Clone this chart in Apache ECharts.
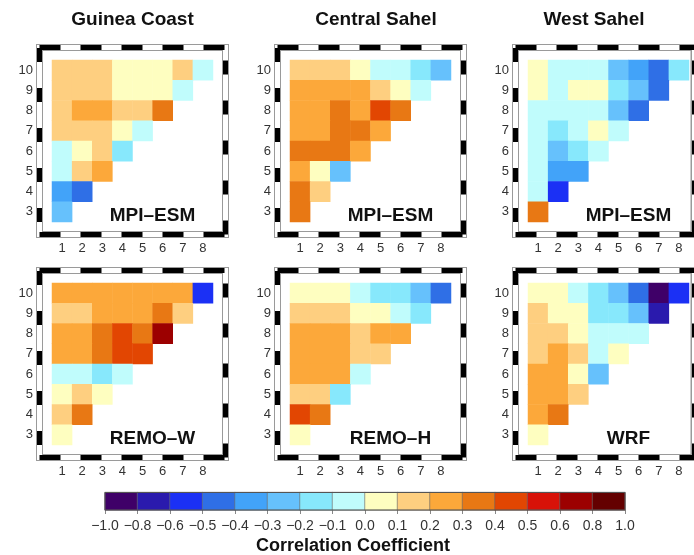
<!DOCTYPE html>
<html>
<head>
<meta charset="utf-8">
<script src="https://cdn.jsdelivr.net/npm/echarts@6/dist/echarts.min.js"></script>
<style>
  html, body { margin: 0; padding: 0; background: #ffffff; }
  #chart { width: 694px; height: 555px; }
</style>
</head>
<body>
<div id="chart"></div>
<script>
// Axis categories
const leadMonths = ['1', '2', '3', '4', '5', '6', '7', '8'];
const windowMonths = ['3', '4', '5', '6', '7', '8', '9', '10'];

// Panel headings
const regionTitles = ['Guinea Coast', 'Central Sahel', 'West Sahel'];
const modelNames = ['MPI\u2013ESM', 'MPI\u2013ESM', 'MPI\u2013ESM', 'REMO\u2013W', 'REMO\u2013H', 'WRF'];

// Colour classes of the correlation coefficient
const binEdges = [-1.0, -0.8, -0.6, -0.5, -0.4, -0.3, -0.2, -0.1, 0.0, 0.1, 0.2, 0.3, 0.4, 0.5, 0.6, 0.8, 1.0];
const binColors = ['#3f0068', '#2a1aad', '#1b30f5', '#2f6fe6', '#42a3f9', '#66c1fc', '#87e8fc', '#c0fcfc',
                   '#fefec0', '#fecf80', '#fca83a', '#e87814', '#e24602', '#d81208', '#9c0000', '#640000'];
const edgeLabels = ['\u22121.0', '\u22120.8', '\u22120.6', '\u22120.5', '\u22120.4', '\u22120.3', '\u22120.2', '\u22120.1',
                    '0.0', '0.1', '0.2', '0.3', '0.4', '0.5', '0.6', '0.8', '1.0'];

// Correlation per row, top row (10) first; row "w" holds columns 1..w-2
const guineaCoastMPI = [
  [0.15, 0.15, 0.15, 0.05, 0.05, 0.05, 0.15, -0.05],
  [0.15, 0.15, 0.15, 0.05, 0.05, 0.05, -0.05],
  [0.15, 0.25, 0.25, 0.15, 0.15, 0.35],
  [0.15, 0.15, 0.15, 0.05, -0.05],
  [-0.05, 0.05, 0.15, -0.15],
  [-0.05, 0.15, 0.25],
  [-0.35, -0.45],
  [-0.25]
];
const centralSahelMPI = [
  [0.15, 0.15, 0.15, 0.05, -0.05, -0.05, -0.15, -0.25],
  [0.25, 0.25, 0.25, 0.25, 0.15, 0.05, -0.05],
  [0.25, 0.25, 0.35, 0.25, 0.45, 0.35],
  [0.25, 0.25, 0.35, 0.35, 0.25],
  [0.35, 0.35, 0.35, 0.25],
  [0.25, 0.05, -0.25],
  [0.35, 0.15],
  [0.35]
];
const westSahelMPI = [
  [0.05, -0.05, -0.05, -0.05, -0.25, -0.35, -0.45, -0.15],
  [0.05, -0.05, 0.05, 0.05, -0.15, -0.25, -0.45],
  [-0.05, -0.05, -0.05, -0.05, -0.25, -0.45],
  [-0.05, -0.15, -0.05, 0.05, -0.05],
  [-0.05, -0.25, -0.15, -0.05],
  [-0.05, -0.35, -0.35],
  [-0.05, -0.55],
  [0.35]
];
const guineaCoastREMO = [
  [0.25, 0.25, 0.25, 0.25, 0.25, 0.25, 0.25, -0.55],
  [0.15, 0.15, 0.25, 0.25, 0.25, 0.35, 0.15],
  [0.25, 0.25, 0.35, 0.45, 0.35, 0.7],
  [0.25, 0.25, 0.35, 0.45, 0.45],
  [-0.05, -0.05, -0.15, -0.05],
  [0.05, 0.15, 0.05],
  [0.15, 0.35],
  [0.05]
];
const centralSahelREMO = [
  [0.05, 0.05, 0.05, -0.05, -0.15, -0.15, -0.25, -0.45],
  [0.15, 0.15, 0.15, 0.05, 0.05, -0.05, -0.15],
  [0.25, 0.25, 0.25, 0.15, 0.25, 0.25],
  [0.25, 0.25, 0.25, 0.15, 0.15],
  [0.25, 0.25, 0.25, -0.05],
  [0.15, 0.15, -0.15],
  [0.45, 0.35],
  [0.05]
];
const westSahelWRF = [
  [0.05, 0.05, -0.05, -0.15, -0.25, -0.45, -0.9, -0.55],
  [0.15, 0.05, 0.05, -0.15, -0.15, -0.25, -0.7],
  [0.15, 0.15, 0.05, -0.05, -0.05, -0.05],
  [0.15, 0.25, 0.15, -0.05, 0.05],
  [0.25, 0.25, 0.05, -0.25],
  [0.25, 0.25, 0.15],
  [0.25, 0.35],
  [0.05]
];

const panels = [guineaCoastMPI, centralSahelMPI, westSahelMPI, guineaCoastREMO, centralSahelREMO, westSahelWRF];

// Layout
const FONT = '"Liberation Sans", Arial, Helvetica, sans-serif';
const colLeft = [52, 290, 528];
const rowTop = [60, 283];
const CELL_W = 161, CELL_H = 162, PAD = 12.5;

const grids = [], xAxes = [], yAxes = [], series = [], graphics = [];

function hiddenBits() {
  return { axisTick: { show: false }, axisLabel: { show: false }, splitLine: { show: false } };
}

// Heat-map panels
panels.forEach((rows, p) => {
  const left = colLeft[p % 3], top = rowTop[Math.floor(p / 3)];
  const g = grids.length;
  grids.push({ left: left, top: top, width: CELL_W, height: CELL_H });
  const xi = xAxes.length, yi = yAxes.length;
  xAxes.push({
    gridIndex: g, type: 'category', data: leadMonths,
    axisLine: { show: false }, axisTick: { show: false }, splitLine: { show: false },
    axisLabel: { margin: 20, fontSize: 13, color: '#333', fontFamily: FONT }
  });
  yAxes.push({
    gridIndex: g, type: 'category', data: windowMonths,
    axisLine: { show: false }, axisTick: { show: false }, splitLine: { show: false },
    axisLabel: { margin: 19, fontSize: 13, color: '#333', fontFamily: FONT }
  });
  const data = [];
  rows.forEach((row, r) => {
    const yIdx = windowMonths.length - 1 - r;
    row.forEach((v, c) => data.push([c, yIdx, v]));
  });
  series.push({
    type: 'heatmap', xAxisIndex: xi, yAxisIndex: yi, data: data,
    itemStyle: { borderWidth: 0 }, emphasis: { disabled: true }, silent: true
  });

  // Model name inside the panel
  graphics.push({
    type: 'text', x: left + CELL_W / 2 + 20, y: top + CELL_H - 6,
    style: { text: modelNames[p], fontSize: 19, fontWeight: 'bold', fontFamily: FONT,
             fill: '#111', align: 'center', verticalAlign: 'middle' }
  });
});

// Map-style dashed frames round each panel
const frameSides = [
  { dim: 'x', position: 'bottom', dash: [21, 20], dashOffset: 0 },
  { dim: 'x', position: 'top', dash: [21, 20], dashOffset: 0 },
  { dim: 'y', position: 'left', dash: [14, 26], dashOffset: 27.5 },
  { dim: 'y', position: 'right', dash: [14, 26], dashOffset: 0 }
];
panels.forEach((rows, p) => {
  const left = colLeft[p % 3], top = rowTop[Math.floor(p / 3)];
  const g = grids.length;
  grids.push({
    left: left - PAD, top: top - PAD, width: CELL_W + 2 * PAD, height: CELL_H + 2 * PAD,
    show: true, borderColor: '#9a9a9a', borderWidth: 7, backgroundColor: 'transparent', z: 0
  });
  frameSides.forEach(side => {
    const list = side.dim === 'x' ? xAxes : yAxes;
    list.push(Object.assign({
      gridIndex: g, type: 'value', min: 0, max: 1, position: side.position, z: 1,
      axisLine: { show: true, onZero: false, lineStyle: { color: '#ffffff', width: 5, cap: 'square' } }
    }, hiddenBits()));
    list.push(Object.assign({
      gridIndex: g, type: 'value', min: 0, max: 1, position: side.position, z: 2,
      axisLine: { show: true, onZero: false,
                  lineStyle: { color: '#000000', width: 5, cap: 'butt', type: side.dash, dashOffset: side.dashOffset } }
    }, hiddenBits()));
  });
});

// Colour bar
const binIndex = binColors.map((c, i) => String(i));
const cbGrid = grids.length;
grids.push({ left: 105, top: 492.5, width: 520, height: 17.5, show: true, borderColor: '#555', borderWidth: 1, z: 3 });
const cbX = xAxes.length;
xAxes.push(Object.assign({ gridIndex: cbGrid, type: 'category', data: binIndex, axisLine: { show: false } }, hiddenBits()));
xAxes.push({
  gridIndex: cbGrid, type: 'value', min: 0, max: binColors.length, interval: 1, position: 'bottom',
  axisLine: { show: false, onZero: false }, splitLine: { show: false },
  axisTick: { show: true, length: 4, lineStyle: { color: '#888', width: 1 } },
  axisLabel: { margin: 9, fontSize: 14, color: '#333', fontFamily: FONT,
               formatter: v => edgeLabels[Math.round(v)] }
});
const cbY = yAxes.length;
yAxes.push(Object.assign({ gridIndex: cbGrid, type: 'category', data: [''], axisLine: { show: false } }, hiddenBits()));
series.push({
  type: 'heatmap', xAxisIndex: cbX, yAxisIndex: cbY, silent: true, emphasis: { disabled: true },
  data: binColors.map((c, i) => [i, 0, (binEdges[i] + binEdges[i + 1]) / 2]),
  itemStyle: { borderColor: '#6a6a6a', borderWidth: 0.6 }
});

// Column headings and colour-bar caption
const titleX = [132.5, 376, 594];
regionTitles.forEach((t, i) => {
  graphics.push({
    type: 'text', x: titleX[i], y: 20,
    style: { text: t, fontSize: 19, fontWeight: 'bold', fontFamily: FONT, fill: '#111',
             align: 'center', verticalAlign: 'middle' }
  });
});
graphics.push({
  type: 'text', x: 353, y: 546,
  style: { text: 'Correlation Coefficient', fontSize: 18, fontWeight: 'bold', fontFamily: FONT,
           fill: '#111', align: 'center', verticalAlign: 'middle' }
});

const pieces = binColors.map((c, i) => i === binColors.length - 1
  ? { gte: binEdges[i], lte: binEdges[i + 1], color: c }
  : { gte: binEdges[i], lt: binEdges[i + 1], color: c });

const chart = echarts.init(document.getElementById('chart'), null, { renderer: 'canvas' });
chart.setOption({
  animation: false,
  backgroundColor: '#ffffff',
  grid: grids,
  xAxis: xAxes,
  yAxis: yAxes,
  visualMap: {
    type: 'piecewise', show: false, dimension: 2,
    seriesIndex: series.map((s, i) => i),
    pieces: pieces
  },
  series: series,
  graphic: graphics
});
</script>
</body>
</html>
